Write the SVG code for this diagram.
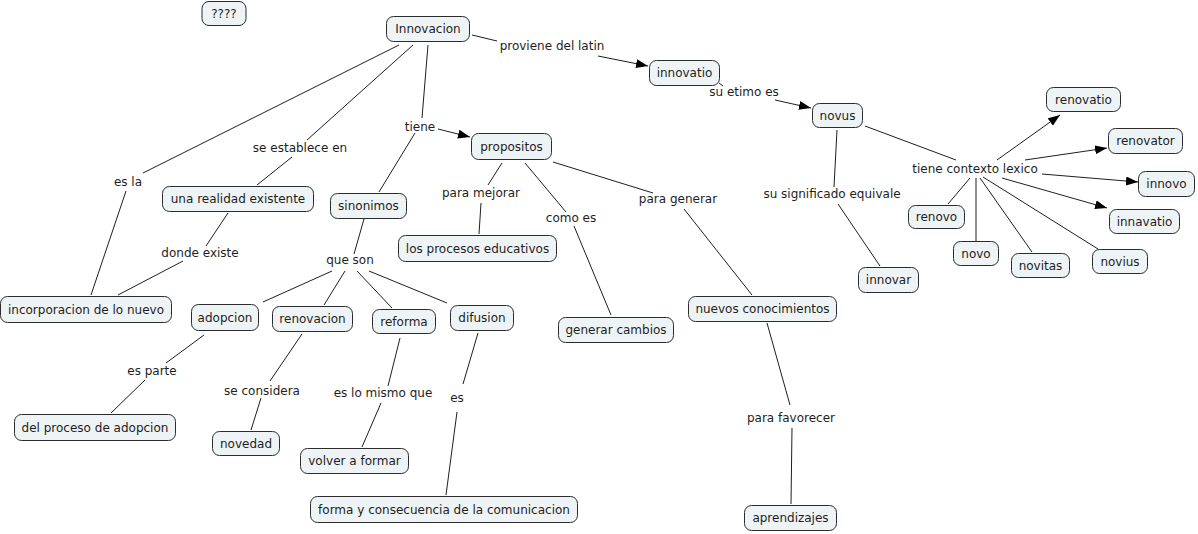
<svg xmlns="http://www.w3.org/2000/svg" width="1198" height="534" viewBox="0 0 1198 534">
<style>
.n rect{fill:#eef3f5;stroke:#2b2b2b;stroke-width:1}
text{font-family:"DejaVu Sans","Liberation Sans",sans-serif;font-size:12px;fill:#1e1e1e;text-anchor:middle}
.c line{stroke:#1e1e1e;stroke-width:1}
.c line.a{marker-end:url(#ah)}
</style>
<defs>
<marker id="ah" markerUnits="userSpaceOnUse" markerWidth="13" markerHeight="10" refX="12" refY="4.5" orient="auto">
<path d="M0,0 L12,4.5 L0,9 z" fill="#000"/>
</marker>
</defs>
<rect width="1198" height="534" fill="#fff"/>
<g id="connectors" class="c">
<line x1="472" y1="35" x2="497" y2="41"/>
<line class="a" x1="598" y1="56" x2="648" y2="66"/>
<line x1="719" y1="83" x2="723" y2="86"/>
<line class="a" x1="775" y1="100" x2="811" y2="108"/>
<line x1="399" y1="45" x2="143" y2="173"/>
<line x1="126" y1="191" x2="91" y2="295"/>
<line x1="413" y1="45" x2="307" y2="140"/>
<line x1="292" y1="157" x2="257" y2="185"/>
<line x1="428" y1="45" x2="422" y2="118"/>
<line class="a" x1="438" y1="129" x2="470" y2="137"/>
<line x1="415" y1="133" x2="379" y2="192"/>
<line x1="228" y1="213" x2="206" y2="246"/>
<line x1="183" y1="261" x2="118" y2="295"/>
<line x1="364" y1="219" x2="354" y2="254"/>
<line x1="332" y1="271" x2="263" y2="302"/>
<line x1="345" y1="271" x2="324" y2="305"/>
<line x1="357" y1="271" x2="392" y2="308"/>
<line x1="369" y1="271" x2="447" y2="303"/>
<line x1="204" y1="335" x2="166" y2="363"/>
<line x1="145" y1="380" x2="111" y2="413"/>
<line x1="302" y1="334" x2="270" y2="381"/>
<line x1="261" y1="398" x2="251" y2="430"/>
<line x1="400" y1="338" x2="388" y2="386"/>
<line x1="381" y1="403" x2="362" y2="447"/>
<line x1="478" y1="333" x2="463" y2="384"/>
<line x1="457" y1="412" x2="446" y2="495"/>
<line x1="502" y1="163" x2="488" y2="185"/>
<line x1="481" y1="203" x2="479" y2="234"/>
<line x1="525" y1="163" x2="566" y2="212"/>
<line x1="574" y1="226" x2="611" y2="315"/>
<line x1="553" y1="162" x2="653" y2="193"/>
<line x1="684" y1="209" x2="752" y2="295"/>
<line x1="767" y1="323" x2="790" y2="405"/>
<line x1="792" y1="428" x2="791" y2="504"/>
<line x1="837" y1="130" x2="834" y2="187"/>
<line x1="838" y1="204" x2="880" y2="266"/>
<line x1="865" y1="126" x2="956" y2="160"/>
<line class="a" x1="997" y1="160" x2="1060" y2="115"/>
<line class="a" x1="1025" y1="160" x2="1107" y2="148"/>
<line class="a" x1="1042" y1="174" x2="1138" y2="182"/>
<line class="a" x1="1002" y1="178" x2="1107" y2="208"/>
<line x1="970" y1="178" x2="948" y2="204"/>
<line x1="976" y1="178" x2="976" y2="241"/>
<line x1="980" y1="178" x2="1032" y2="252"/>
<line x1="983" y1="177" x2="1098" y2="249"/>
</g>
<g id="labels">
<text x="552" y="50">proviene del latin</text>
<text x="744" y="96">su etimo es</text>
<text x="420" y="131">tiene</text>
<text x="300" y="152">se establece en</text>
<text x="128" y="186">es la</text>
<text x="200" y="257">donde existe</text>
<text x="350" y="264">que son</text>
<text x="481" y="197">para mejorar</text>
<text x="571" y="222">como es</text>
<text x="678" y="203">para generar</text>
<text x="832" y="198">su significado equivale</text>
<text x="975" y="173">tiene contexto lexico</text>
<text x="152" y="375">es parte</text>
<text x="262" y="395">se considera</text>
<text x="383" y="397">es lo mismo que</text>
<text x="457" y="402">es</text>
<text x="791" y="422">para favorecer</text>
</g>
<g id="n-q" class="n"><rect x="202" y="1.5" width="44" height="24" rx="7"/><text x="224" y="17.5">????</text></g>
<g id="n-innovacion" class="n"><rect x="386.5" y="16.5" width="83" height="25" rx="7"/><text x="428" y="33">Innovacion</text></g>
<g id="n-innovatio" class="n"><rect x="649.5" y="60.5" width="70" height="25" rx="7"/><text x="684.5" y="77">innovatio</text></g>
<g id="n-novus" class="n"><rect x="812.5" y="103.5" width="50" height="24" rx="7"/><text x="837.5" y="119.5">novus</text></g>
<g id="n-renovatio" class="n"><rect x="1046.5" y="87.5" width="74" height="24" rx="7"/><text x="1083.5" y="103.5">renovatio</text></g>
<g id="n-renovator" class="n"><rect x="1108.5" y="128.5" width="74" height="25" rx="7"/><text x="1145.5" y="145">renovator</text></g>
<g id="n-innovo" class="n"><rect x="1138.5" y="171.5" width="56" height="25" rx="7"/><text x="1166.5" y="188">innovo</text></g>
<g id="n-innavatio" class="n"><rect x="1109.5" y="209.5" width="70" height="24" rx="7"/><text x="1144.5" y="225.5">innavatio</text></g>
<g id="n-renovo" class="n"><rect x="908.5" y="205.5" width="56" height="23" rx="7"/><text x="936.5" y="221">renovo</text></g>
<g id="n-novo" class="n"><rect x="953.5" y="241.5" width="45" height="24" rx="7"/><text x="976" y="257.5">novo</text></g>
<g id="n-novitas" class="n"><rect x="1011.5" y="253.5" width="58" height="24" rx="7"/><text x="1040.5" y="269.5">novitas</text></g>
<g id="n-novius" class="n"><rect x="1092.5" y="249.5" width="55" height="24" rx="7"/><text x="1120" y="265.5">novius</text></g>
<g id="n-innovar" class="n"><rect x="858.5" y="267.5" width="60" height="25" rx="7"/><text x="888.5" y="284">innovar</text></g>
<g id="n-propositos" class="n"><rect x="471.5" y="133.5" width="80" height="26" rx="7"/><text x="511.5" y="150.5">propositos</text></g>
<g id="n-realidad" class="n"><rect x="162.5" y="186.5" width="151" height="25" rx="7"/><text x="238" y="203">una realidad existente</text></g>
<g id="n-sinonimos" class="n"><rect x="330.5" y="193.5" width="76" height="25" rx="7"/><text x="368.5" y="210">sinonimos</text></g>
<g id="n-procesos" class="n"><rect x="398.5" y="235.5" width="158" height="26" rx="7"/><text x="477.5" y="252.5">los procesos educativos</text></g>
<g id="n-incorporacion" class="n"><rect x="0.5" y="296.5" width="171" height="26" rx="7"/><text x="86" y="313.5">incorporacion de lo nuevo</text></g>
<g id="n-adopcion" class="n"><rect x="191.5" y="304.5" width="67" height="26" rx="7"/><text x="225" y="321.5">adopcion</text></g>
<g id="n-renovacion" class="n"><rect x="272.5" y="306.5" width="80" height="25" rx="7"/><text x="312.5" y="323">renovacion</text></g>
<g id="n-reforma" class="n"><rect x="372.5" y="309.5" width="63" height="24" rx="7"/><text x="404" y="325.5">reforma</text></g>
<g id="n-difusion" class="n"><rect x="450.5" y="305.5" width="63" height="25" rx="7"/><text x="482" y="322">difusion</text></g>
<g id="n-cambios" class="n"><rect x="558.5" y="317.5" width="115" height="25" rx="7"/><text x="616" y="334">generar cambios</text></g>
<g id="n-conocimientos" class="n"><rect x="688.5" y="296.5" width="148" height="25" rx="7"/><text x="762.5" y="313">nuevos conocimientos</text></g>
<g id="n-proceso-adopcion" class="n"><rect x="14.5" y="414.5" width="161" height="26" rx="7"/><text x="95" y="431.5">del proceso de adopcion</text></g>
<g id="n-novedad" class="n"><rect x="212.5" y="431.5" width="67" height="24" rx="7"/><text x="246" y="447.5">novedad</text></g>
<g id="n-volver" class="n"><rect x="300.5" y="448.5" width="108" height="25" rx="7"/><text x="354.5" y="465">volver a formar</text></g>
<g id="n-forma" class="n"><rect x="310.5" y="496.5" width="267" height="26" rx="7"/><text x="444" y="513.5">forma y consecuencia de la comunicacion</text></g>
<g id="n-aprendizajes" class="n"><rect x="744.5" y="505.5" width="92" height="25" rx="7"/><text x="790.5" y="522">aprendizajes</text></g>
</svg>
